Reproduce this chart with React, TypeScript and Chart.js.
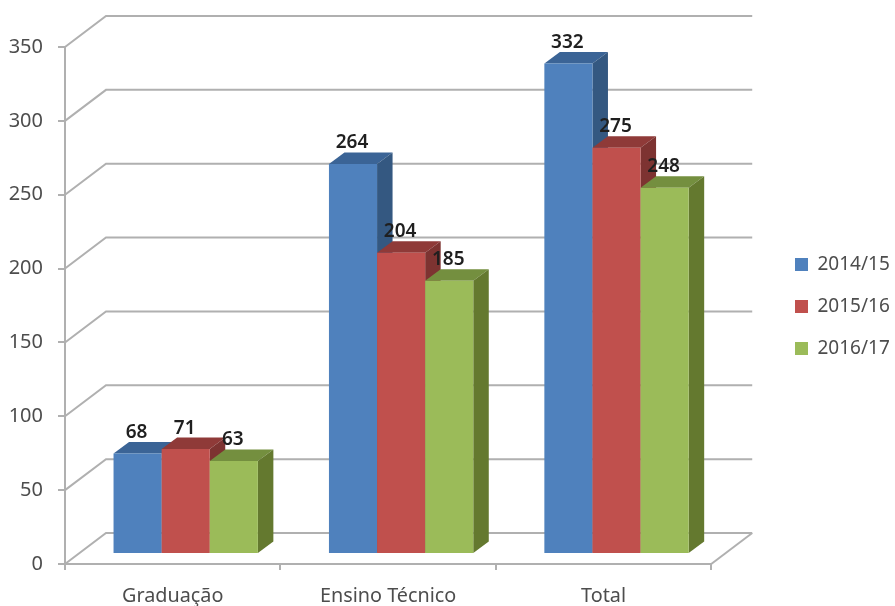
import React, { useEffect, useRef } from "react";
import { Chart, registerables } from "chart.js";

Chart.register(...registerables);

const categories = ["Graduação", "Ensino Técnico", "Total"];
const seriesNames = ["2014/15", "2015/16", "2016/17"];
const values2014 = [68, 264, 332];
const values2015 = [71, 204, 275];
const values2016 = [63, 185, 248];

const frontColors = ["#4f81bd", "#c0504d", "#9bbb59"];
const topColors = ["#3b6496", "#8f3a38", "#748f3f"];
const sideColors = ["#345881", "#7d3331", "#64792f"];

const FONT_FAMILY = "'Noto Sans', sans-serif";
const AXIS_COLOR = "#b0b0b0";
const TEXT_COLOR = "#4d4d4d";

// Projection of the box: back wall relative to the axes, bars relative to the floor.
const WALL_DX = 41;
const WALL_DY = -31;
const BAR_DX = 13;
const BAR_DY = -10;
const DEPTH_DX = 15.5;
const DEPTH_DY = -11.5;
const LEGEND_LEFT = 772;
const LEGEND_LIFT = 20;

const fakeThreeD = {
  id: "fakeThreeD",
  afterLayout(chart: any) {
    // The legend sits in its own column, centred on the page rather than on the plot
    const legend = chart.legend;
    const width = legend.right - legend.left;
    legend.left = LEGEND_LEFT;
    legend.right = LEGEND_LEFT + width;
    legend.top -= LEGEND_LIFT;
    legend.bottom -= LEGEND_LIFT;
  },
  beforeDatasetsDraw(chart: any) {
    const { ctx, chartArea, scales } = chart;
    const { left, right } = chartArea;

    // Wall and floor lines
    ctx.save();
    ctx.strokeStyle = AXIS_COLOR;
    ctx.lineWidth = 2;
    for (const tick of scales.y.ticks) {
      const y = scales.y.getPixelForValue(tick.value);
      ctx.beginPath();
      ctx.moveTo(left, y);
      ctx.lineTo(left + WALL_DX, y + WALL_DY);
      ctx.lineTo(right + WALL_DX, y + WALL_DY);
      ctx.stroke();
    }
    const floor = scales.y.getPixelForValue(0);
    ctx.beginPath();
    ctx.moveTo(right, floor);
    ctx.lineTo(right + WALL_DX, floor + WALL_DY);
    ctx.stroke();
    ctx.restore();

    // Bars go left to right so each one covers the side of its neighbour
    const count = categories.length;
    for (let c = 0; c < count; c++) {
      chart.data.datasets.forEach((_: any, d: number) => {
        const bar = chart.getDatasetMeta(d).data[c];
        const x0 = bar.x - bar.width / 2;
        const x1 = bar.x + bar.width / 2;
        ctx.save();
        ctx.translate(BAR_DX, BAR_DY);
        ctx.fillStyle = topColors[d];
        ctx.beginPath();
        ctx.moveTo(x0, bar.y);
        ctx.lineTo(x1, bar.y);
        ctx.lineTo(x1 + DEPTH_DX, bar.y + DEPTH_DY);
        ctx.lineTo(x0 + DEPTH_DX, bar.y + DEPTH_DY);
        ctx.closePath();
        ctx.fill();
        ctx.fillStyle = sideColors[d];
        ctx.beginPath();
        ctx.moveTo(x1, bar.y);
        ctx.lineTo(x1 + DEPTH_DX, bar.y + DEPTH_DY);
        ctx.lineTo(x1 + DEPTH_DX, bar.base + DEPTH_DY);
        ctx.lineTo(x1, bar.base);
        ctx.closePath();
        ctx.fill();
        bar.draw(ctx);
        ctx.restore();
      });
    }
    return false;
  },
  afterDraw(chart: any) {
    const { ctx } = chart;
    ctx.save();
    ctx.font = `600 19px ${FONT_FAMILY}`;
    ctx.fillStyle = "#1f1f1f";
    ctx.textAlign = "center";
    ctx.textBaseline = "middle";
    chart.data.datasets.forEach((ds: any, d: number) => {
      chart.getDatasetMeta(d).data.forEach((bar: any, i: number) => {
        ctx.fillText(String(ds.data[i]), bar.x + BAR_DX - 1, bar.y + BAR_DY - 21);
      });
    });
    ctx.restore();
  },
};

export default function App() {
  const canvasRef = useRef<HTMLCanvasElement>(null);

  useEffect(() => {
    document.body.style.margin = "0";
    document.body.style.background = "#ffffff";
    const chart = new Chart(canvasRef.current!, {
      type: "bar",
      data: {
        labels: categories,
        datasets: [values2014, values2015, values2016].map((data, i) => ({
          label: seriesNames[i],
          data,
          backgroundColor: frontColors[i],
          borderWidth: 0,
          categoryPercentage: 0.67,
          barPercentage: 1,
        })),
      },
      options: {
        responsive: false,
        animation: false,
        layout: { padding: { top: 47, bottom: 0, left: 0, right: 56 } },
        plugins: {
          tooltip: { enabled: false },
          legend: {
            position: "right",
            onClick: undefined,
            labels: {
              boxWidth: 13,
              boxHeight: 13,
              padding: 23,
              color: TEXT_COLOR,
              font: { family: FONT_FAMILY, size: 19 },
            },
          },
        },
        scales: {
          x: {
            afterFit(scale: any) {
              scale.height = 42;
            },
            grid: { drawOnChartArea: false, color: AXIS_COLOR, lineWidth: 2, tickLength: 6 },
            border: { color: AXIS_COLOR, width: 2 },
            ticks: {
              color: TEXT_COLOR,
              padding: 14,
              maxRotation: 0,
              autoSkip: false,
              font: { family: FONT_FAMILY, size: 19.8 },
            },
          },
          y: {
            min: 0,
            max: 350,
            afterFit(scale: any) {
              scale.width = 65;
            },
            grid: { drawOnChartArea: false, color: AXIS_COLOR, lineWidth: 2, tickLength: 7 },
            border: { color: AXIS_COLOR, width: 2 },
            ticks: {
              stepSize: 50,
              color: TEXT_COLOR,
              padding: 15,
              font: { family: FONT_FAMILY, size: 20 },
            },
          },
        },
      },
      plugins: [fakeThreeD],
    } as any);
    return () => chart.destroy();
  }, []);

  return <canvas ref={canvasRef} width={895} height={606} style={{ display: "block" }} />;
}
